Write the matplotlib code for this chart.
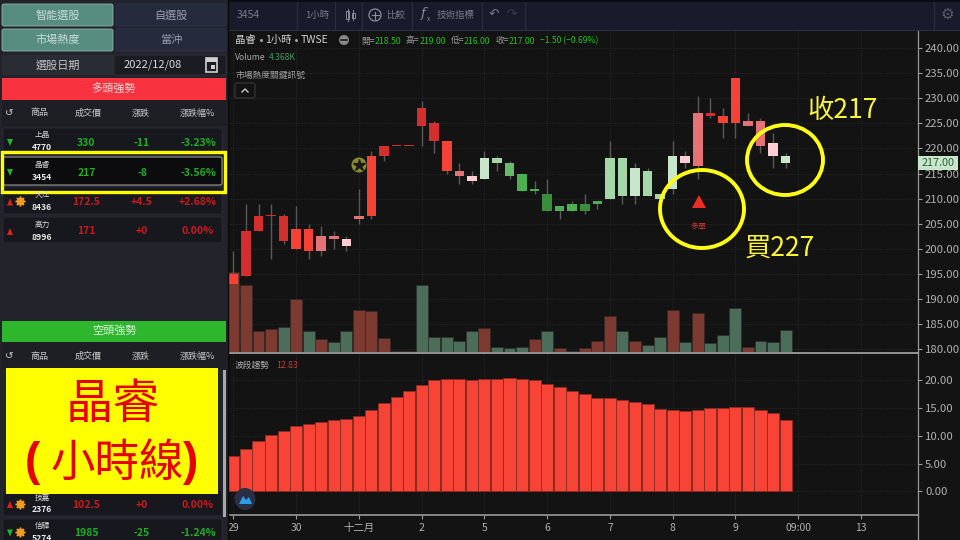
"""
Hourly candlestick screen for 3454 with the stock picker panel on the left
"""

import matplotlib
matplotlib.use('Agg')
import matplotlib.pyplot as plt
from matplotlib.patches import Rectangle, FancyBboxPatch, Ellipse, Circle, Polygon

plt.rcParams['font.family'] = ['Noto Sans CJK TC', 'DejaVu Sans']
plt.rcParams['axes.unicode_minus'] = False

# OHLC
opens = [193, 194.5, 203.5, 206.5, 206.5, 204, 204, 202.5, 202, 200.5, 206, 206.5, 218.5, 220.5, 220.5,
         224.5, 221.5, 215.5, 214.5, 213.5, 218, 218, 217, 215, 212, 211, 208.5, 209, 209, 209.5,
         218, 218, 216, 215.5, 211, 218.5, 217, 216.5, 226.5, 225, 225, 224.5, 220.5, 218.5, 218.5]
closes = [195, 203.5, 206.5, 206.5, 201.5, 200, 199.5, 199.5, 202.5, 202, 206.5, 218.5, 220.5, 220.5, 220.5,
          228, 225, 221.5, 215.5, 214.5, 214, 217, 214.5, 211.5, 211.5, 207.5, 207.5, 207.5, 207.5, 209,
          210, 210.5, 210.5, 210.5, 210, 212, 218.5, 227, 227, 226.5, 234, 225.5, 225.5, 221, 217]
highs = [199.5, 209, 209, 209, 207, 208.5, 205, 204.5, 203.5, 202.5, 212, 219.5, 220.5, 220.5, 220.5,
         229.5, 225.5, 221.5, 217, 215.5, 219.5, 218.5, 217.5, 215, 213.5, 214, 208.5, 209.5, 211, 209.5,
         221.5, 218, 217, 216, 211, 221.5, 219.5, 230.5, 230, 228, 234, 227, 226, 223, 219]
lows = [193, 194.5, 203.5, 198, 201, 200, 198, 198.5, 200, 199.5, 205, 206, 217.5, 220.5, 220.5,
        220.5, 219, 215, 213, 213, 214, 215.5, 214, 211.5, 211, 207.5, 206, 207.5, 207, 208,
        210, 209, 209, 210.5, 210, 211, 216, 214, 226, 222, 222, 224.5, 219, 216, 216]
volumes = [16.2, 13.5, 4.3, 4.63, 5.03, 10.67, 4.3, 2.62, 2.08, 4.3, 8.39, 8.32, 2.75, 0.27, 0.27,
           13.49, 3.09, 2.95, 2.21, 4.3, 4.77, 1.0, 0.8, 0.94, 2.55, 4.16, 0.8, 0.27, 0.8, 2.21,
           7.32, 4.16, 2.21, 1.34, 3.09, 8.46, 2.08, 7.79, 1.88, 3.49, 8.86, 1.0, 2.28, 2.08, 4.368]
swing = [6.3, 7.6, 9.0, 10.15, 10.9, 11.8, 12.1, 12.5, 12.8, 13.0, 13.6, 14.6, 15.9, 17.0, 18.07,
         19.1, 20.0, 20.2, 20.15, 20.05, 20.15, 20.2, 20.3, 20.2, 19.9, 19.3, 18.7, 18.0, 17.4, 16.8,
         16.8, 16.3, 16.0, 15.6, 14.75, 14.6, 14.4, 14.55, 15.0, 15.0, 15.1, 15.1, 14.6, 14.0, 12.83]

price_ticks = [180, 185, 190, 195, 200, 205, 210, 215, 220, 225, 230, 235, 240]
swing_ticks = [0, 5, 10, 15, 20]
time_labels = ['29', '30', '十二月', '2', '5', '6', '7', '8', '9', '09:00', '13']

# left table rows: name, code, price, change, percent
bull_rows = [('上晶', '4770', '330', '-11', '-3.23%'),
             ('晶睿', '3454', '217', '-8', '-3.56%'),
             ('大江', '8436', '172.5', '+4.5', '+2.68%'),
             ('高力', '8996', '171', '+0', '0.00%')]
bear_rows = [('技嘉', '2376', '102.5', '+0', '0.00%'),
             ('信驊', '5274', '1985', '-25', '-1.24%')]

# candle shades as seen on screen
R1, R2, R3, R4 = '#f44336', '#d32f2f', '#e57373', '#ffcdd2'
G1, G2, G3, G4 = '#388e3c', '#4caf50', '#a5d6a7', '#c8e6c9'
candle_colors = [R1, R2, R2, R2, R2, R1, R1, R3, R3, R4, R3, R1, R2, R2, R2,
                 R2, R2, R1, R3, R4, G4, G3, '#66bb6a', G2, G2, G1, G2, G2, G1, G2,
                 G3, G3, G4, G3, G3, G4, R4, R3, R2, R1, R1, R3, R3, R4, G4]
vol_up = 'rrrrgrgrggrrrrrgggggrgggrgrgrrrgrggrgrgggrggg'

BG = '#131313'
PANEL = '#23242b'
GRID = '#2a2a2a'
TICK = '#b0b0b0'
AXIS = '#9a9a9a'
NOTE = '#fbf538'


def x_of(px):
    return (px - 233.4) / 12.55


fig = plt.figure(figsize=(9.6, 5.4), dpi=100, facecolor=BG)

# price pane, pixels 228-918 by 30-352
ax = fig.add_axes([228 / 960, 1 - 352 / 540, 690 / 960, 322 / 540], facecolor=BG, zorder=1)
ax.set_xlim(x_of(228), x_of(918))
ax.set_ylim(179.44, 243.59)
ax_vol = fig.add_axes(ax.get_position(), facecolor='none', zorder=2)
ax_vol.set_xlim(ax.get_xlim())
ax_vol.set_ylim(0, 322 / 4.96)
ax_top = fig.add_axes(ax.get_position(), facecolor='none', zorder=3)
ax_top.set_xlim(ax.get_xlim())
ax_top.set_ylim(ax.get_ylim())

# trend pane, pixels 353-515
ax2 = fig.add_axes([228 / 960, 1 - 515 / 540, 690 / 960, 162 / 540], facecolor=BG, zorder=1)
ax2.set_xlim(ax.get_xlim())
ax2.set_ylim(-4.21, 24.8)

idx = list(range(len(closes)))
day_ticks = list(range(0, 55, 5))

for a in [ax, ax2]:
    a.set_xticks(day_ticks)
    a.grid(True, color=GRID, linewidth=0.7, linestyle=(0, (1, 1.5)))
    a.set_axisbelow(True)
    a.yaxis.tick_right()
    for s in a.spines.values():
        s.set_visible(False)
    a.spines['right'].set_visible(True)
    a.spines['right'].set_color(AXIS)
    a.spines['right'].set_linewidth(0.9)

ax.set_yticks(price_ticks)
ax.set_yticklabels([f'{v:.2f}' for v in price_ticks])
ax.tick_params(axis='x', length=0, labelbottom=False)
ax.tick_params(axis='y', length=3, color=AXIS, labelcolor=TICK, labelsize=8.2, pad=2)
for a in [ax_vol, ax_top]:
    a.axis('off')

ax2.set_yticks(swing_ticks)
ax2.set_yticklabels([f'{v:.2f}' for v in swing_ticks])
ax2.set_xticklabels(time_labels)
ax2.tick_params(axis='y', length=3, color=AXIS, labelcolor=TICK, labelsize=8.2, pad=2)
ax2.tick_params(axis='x', length=3, color=AXIS, labelcolor=TICK, labelsize=7.5, pad=3)
ax2.spines['bottom'].set_visible(True)
ax2.spines['bottom'].set_color(AXIS)
ax2.spines['bottom'].set_linewidth(1.2)
ax2.spines['top'].set_visible(True)
ax2.spines['top'].set_color('#a8a8a8')
ax2.spines['top'].set_linewidth(1.2)

# volume under the candles
vol_colors = ['#7d3a30' if c == 'r' else '#4c6d5a' for c in vol_up]
ax_vol.bar(idx, volumes, width=0.95, color=vol_colors, edgecolor='#2a2a2a', linewidth=0.4)

# candles
ax_top.vlines(idx, lows, highs, color='#5a5a5a', linewidth=1.0, zorder=2)
body_low = [min(o, c) for o, c in zip(opens, closes)]
body_h = [max(abs(c - o), 0.2) for o, c in zip(opens, closes)]
ax_top.bar(idx, body_h, bottom=body_low, width=0.76, color=candle_colors, zorder=3)

# trend bars
ax2.bar(idx, swing, width=0.96, color='#f84437', edgecolor='#8e2a24', linewidth=0.6, zorder=3)

# everything that is not the chart itself, in pixel coordinates
ui = fig.add_axes([0, 0, 1, 1], facecolor='none', zorder=10)
ui.set_xlim(0, 960)
ui.set_ylim(540, 0)
ui.axis('off')


def txt(x, y, s, size=7, color='#c8c8c8', ha='center', weight='normal', **kw):
    ui.text(x, y, s, fontsize=size, color=color, ha=ha, va='center', fontweight=weight, **kw)


def box(x0, y0, x1, y1, fc, ec='none', lw=0, rad=2):
    ui.add_patch(FancyBboxPatch((x0 + rad, y0 + rad), x1 - x0 - 2 * rad, y1 - y0 - 2 * rad,
                                boxstyle=f'round,pad={rad}', fc=fc, ec=ec, lw=lw))


def rect(x0, y0, x1, y1, fc, ec='none', lw=0):
    ui.add_patch(Rectangle((x0, y0), x1 - x0, y1 - y0, fc=fc, ec=ec, lw=lw))


# top toolbar
rect(228, 0, 960, 30, '#171b2b')
rect(228, 0, 960, 2, '#0c0d12')
for px in [297, 335, 362, 412, 482, 525, 934]:
    ui.plot([px, px], [2, 29], color='#2b2e3e', linewidth=0.8)
ui.plot([228, 960], [29.5, 29.5], color='#2b2e3e', linewidth=0.8)
txt(237, 15, '3454', 7.5, '#777c8c', ha='left')
txt(317, 15, '1小時', 6.8, '#777c8c')
ui.plot([347.5, 347.5], [9, 21], color='#8a8d9c', linewidth=0.7)
ui.plot([353, 353], [10, 20], color='#8a8d9c', linewidth=0.7)
rect(346, 11, 349, 19, BG, '#8a8d9c', 0.7)
rect(351.5, 13, 354.5, 18, BG, '#8a8d9c', 0.7)
ui.add_patch(Circle((375, 15), 6, fc='none', ec='#8a8d9c', lw=0.9))
ui.plot([371.5, 378.5], [15, 15], color='#8a8d9c', linewidth=0.8)
ui.plot([375, 375], [11.5, 18.5], color='#8a8d9c', linewidth=0.8)
txt(396, 15, '比較', 6.8, '#777c8c')
txt(423, 14, 'f', 9.5, '#8a8d9c', style='italic', family=['DejaVu Serif'])
txt(428, 19, 'x', 4.5, '#8a8d9c')
txt(456, 15, '技術指標', 6.8, '#777c8c')
txt(494, 14.5, '↶', 9, '#777c8c')
txt(512, 14.5, '↷', 9, '#3a3c48')
txt(947, 14.5, '⚙', 11, '#5a5e6b')

# legend lines over the chart
txt(235, 40, '晶睿', 7.5, '#d0d0d0', ha='left')
txt(265, 40, '1小時', 7.5, '#d0d0d0', ha='left')
txt(301, 40, 'TWSE', 7.5, '#d0d0d0', ha='left')
ui.plot([261, 296], [40, 40], marker='o', markersize=1.2, color='#a0a0a0', linestyle='none')
ui.add_patch(Circle((344, 40), 5, fc='#8a8a8a', ec='none'))
ui.plot([341, 347], [40, 40], color='#1a1a1a', linewidth=1.2)
ohlc_bits = [(361, '開=', '#9a9a9a'), (375, '218.50', '#22c11f'), (406, '高=', '#9a9a9a'), (420, '219.00', '#22c11f'),
             (450.5, '低=', '#9a9a9a'), (464, '216.00', '#22c11f'), (495, '收=', '#9a9a9a'), (509, '217.00', '#22c11f')]
for px, s, c in ohlc_bits:
    txt(px, 41, s, 6.3, c, ha='left')
txt(540, 41, '−1.50 (−0.69%)', 6.2, '#22c11f', ha='left')
txt(235, 57, 'Volume', 6.2, '#a8a8a8', ha='left')
txt(269, 57, '4.368K', 6.2, '#3f9a5d', ha='left')
txt(235, 75, '市場熱度關鍵訊號', 6.3, '#a0a0a0', ha='left')
box(235, 83, 255, 98, 'none', '#3a3a3a', 0.8)
ui.plot([242, 245, 248], [92, 89, 92], color='#c8c8c8', linewidth=1)
txt(235, 365, '波段趨勢', 6.3, '#a8a8a8', ha='left')
txt(276, 365, '12.83', 6.3, '#c23b35', ha='left')

# current price tag
ui.plot([918, 918], [515, 540], color=AXIS, linewidth=0.9)
rect(918, 155.5, 958, 170, '#c8e6c9')
txt(938, 162.5, '217.00', 7.8, '#2f5f3c')

# signal marks
ui.add_patch(Circle((359, 165), 7.5, fc='#8b8b2b', ec='none'))
ui.plot([359], [165], marker='*', markersize=9, color='#1a1a1a', linestyle='none')
ui.add_patch(Polygon([(699, 195), (692, 208), (706, 208)], closed=True, fc='#ee2d26', ec='none'))
txt(698, 226, '多單', 5.8, '#c8332c')
ui.add_patch(Ellipse((245, 499), 21, 22, fc='#2a3044', ec='none'))
ui.add_patch(Polygon([(239, 504), (243, 496), (246, 500), (249, 497), (252, 504)], closed=True, fc='#2f9bea', ec='none'))

# left panel
rect(0, 0, 228, 540, PANEL)
ui.plot([228, 228], [0, 540], color='#0a0a0a', linewidth=1)
box(2, 4, 113, 26, '#578d7e', '#8fb5aa', 0.6)
box(116, 4, 226, 26, '#262a3d', '#31354a', 0.6)
box(2, 29, 113, 51, '#578d7e', '#8fb5aa', 0.6)
box(116, 29, 226, 51, '#262a3d', '#31354a', 0.6)
txt(58, 15, '智能選股', 8, '#c9dcd6')
txt(171, 15, '自選股', 8, '#9a9eb0')
txt(58, 40, '市場熱度', 8, '#c9dcd6')
txt(171, 40, '當沖', 8, '#9a9eb0')
rect(2, 55, 226, 75, '#2a2c34')
box(114, 55, 226, 75, '#1b1c22', '#31333c', 0.6)
txt(58, 65, '選股日期', 8, '#c8c8c8')
txt(153, 65, '2022/12/08', 8, '#d8d8d8')
rect(206, 58, 217, 72, 'none', '#d0d0d0', 1.2)
rect(206, 58, 217, 61.5, '#d0d0d0')
rect(211, 65, 215, 69, '#d0d0d0')


def table_head(y):
    rect(2, y - 13, 226, y + 13, '#1e1f25')
    txt(9, y, '↺', 7.5, '#c8c8c8')
    txt(39, y, '商品', 6.5)
    txt(88, y, '成交價', 6.5)
    txt(141, y, '漲跌', 6.5)
    txt(197, y, '漲跌幅%', 6.5)


def table_row(row, y0, y1, sun=False, picked=False):
    name, code, price, change, pct = row
    down = change.startswith('-')
    col = '#1fae24' if down else '#c9191c'
    mid = (y0 + y1) / 2
    if picked:
        box(3, y0, 222, y1, '#0c0c0e', '#8a8a8a', 0.9)
    else:
        box(3, y0, 222, y1, '#17181d', '#2b2c33', 0.6)
    if down:
        ui.add_patch(Polygon([(7, mid - 2), (13, mid - 2), (10, mid + 5)], fc='#22b32a', ec='none'))
    else:
        ui.add_patch(Polygon([(7, mid + 5), (13, mid + 5), (10, mid - 2)], fc='#e01f1f', ec='none'))
    if sun:
        ui.plot([19.5], [mid + 0.5], marker=(8, 1, 0), markersize=7, color='#f39c1f', linestyle='none')
    txt(42, mid - 5.5, name, 5.5, '#d8d8d8')
    txt(42, mid + 7, code, 6.2, '#e8e8e8', weight='bold')
    txt(86.5, mid + 1.5, price, 7.5, col, weight='bold')
    txt(142, mid + 1.5, change, 7.5, col, weight='bold')
    txt(198, mid + 1.5, pct, 7.5, col, weight='bold')


rect(2, 78, 226, 100, '#f8323f')
txt(114, 88, '多頭強勢', 8, '#f4d6d8')
table_head(113)
table_row(bull_rows[0], 128, 154)
table_row(bull_rows[1], 157, 185, picked=True)
table_row(bull_rows[2], 187, 214, sun=True)
table_row(bull_rows[3], 217, 243)

rect(2, 321, 226, 342, '#2fb62f')
txt(114, 331, '空頭強勢', 8, '#d8f0d8')
table_head(356)
table_row(bear_rows[0], 490, 516, sun=True)
table_row(bear_rows[1], 519, 544, sun=True)
rect(222.5, 370, 226, 517, '#a8a8a8')

# highlight drawn on the slide
ui.add_patch(Rectangle((2, 152), 223, 40, fc='none', ec='#ffff00', lw=2.4))
ui.add_patch(Ellipse((702, 209), 84, 78, fc='none', ec='#ffff14', lw=2.8))
ui.add_patch(Ellipse((785, 160), 76, 70, fc='none', ec='#ffff14', lw=2.8))
txt(842.5, 111, '收217', 19, NOTE)
txt(779.5, 248, '買227', 19, NOTE)

rect(6, 368, 218, 494, '#ffff00')
txt(113, 405, '晶睿', 34, '#e60000')
txt(117.5, 463, '小時線', 32, '#e60000')
paren_font = ['Liberation Sans', 'DejaVu Sans']
txt(32, 463, '(', 33, '#e60000', weight='bold', family=paren_font)
txt(191, 463, ')', 33, '#e60000', weight='bold', family=paren_font)

fig.savefig('out.png', dpi=100, facecolor=BG)
